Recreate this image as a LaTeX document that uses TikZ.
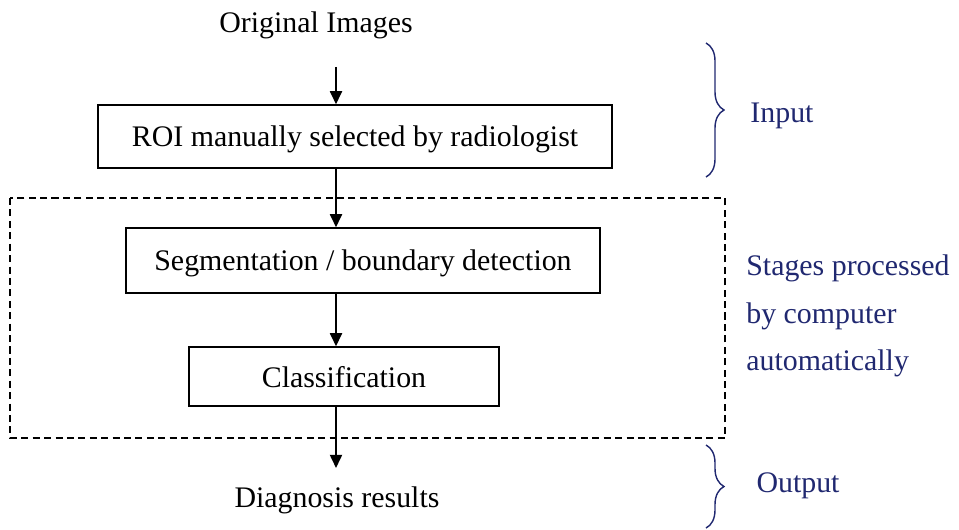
\documentclass[tikz,border=0pt]{standalone}
\usepackage{fontspec}
\setmainfont{Liberation Serif}
\usepackage{tikz}
\usetikzlibrary{arrows.meta,decorations.pathreplacing}
\definecolor{inknavy}{RGB}{32,40,112}

\begin{document}
\begin{tikzpicture}[x=0.02cm,y=-0.02cm,
    every node/.style={font=\fontsize{17}{27}\selectfont},
    stagebox/.style={draw,line width=0.9pt,text depth=0pt,inner sep=0pt},
    plain/.style={inner sep=0pt,anchor=base},
    note/.style={inner sep=0pt,text=inknavy,anchor=base},
    link/.style={->,line width=0.8pt},
    >={Triangle[length=7.5pt,width=7pt]}]

\useasboundingbox (0,0) rectangle (959,529);

\coordinate (col) at (336,0);

\node[plain] (orig) at (316,32) {Original Images};
\node[stagebox,minimum width=10.28cm,minimum height=1.26cm] (roi) at (355,136.5) {ROI manually selected by radiologist};
\node[stagebox,minimum width=9.48cm,minimum height=1.30cm] (seg) at (363,260.5) {Segmentation / boundary detection};
\node[stagebox,minimum width=6.2cm,minimum height=1.18cm] (cls) at (344,376.5) {Classification};
\node[plain] (diag) at (337,507) {Diagnosis results};

% computer stages
\draw[line width=0.8pt,dash pattern=on 4pt off 2.5pt] (10,198) rectangle (725,438);

\draw[link,shorten <=0.56cm] (orig.south -| col) -- (roi.north -| col);
\foreach \a/\b in {roi/seg,seg/cls}
    \draw[link] (\a.south -| col) -- (\b.north -| col);
\draw[link,shorten >=0.36cm] (cls.south -| col) -- (diag.north -| col);

% braces and notes
\foreach \a/\b in {43/177,445/528}
    \draw[inknavy,line width=0.8pt,decorate,decoration={brace,amplitude=0.36cm}] (706,\a) -- (706,\b);

\node[note] (input) at (782,122) {Input};
\node[note,anchor=west,align=left] (stages) at (746,316) {Stages processed\\by computer\\automatically};
\node[note] (output) at (798,492) {Output};

\end{tikzpicture}
\end{document}
